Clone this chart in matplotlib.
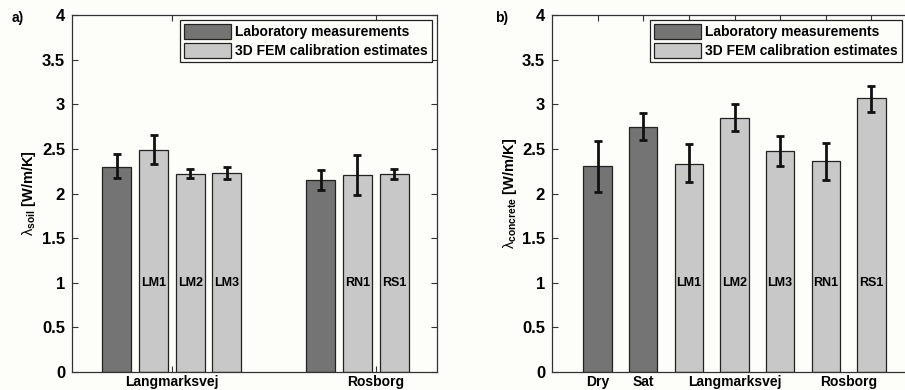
import matplotlib
matplotlib.use("Agg")
import matplotlib.pyplot as plt
from matplotlib.patches import Patch
import numpy as np

plt.rcParams['font.family'] = ['Liberation Sans', 'DejaVu Sans']
plt.rcParams['mathtext.fontset'] = 'custom'
plt.rcParams['mathtext.rm'] = 'Liberation Sans'
plt.rcParams['mathtext.bf'] = 'Liberation Sans:bold'

# ---------------- data ----------------
# panel a (soil)
soil_groups = ['Langmarksvej', 'Rosborg']
soil_lab = [2.30, 2.15]
soil_lab_lo = [2.17, 2.04]
soil_lab_hi = [2.44, 2.26]
soil_fem_names = [['LM1', 'LM2', 'LM3'], ['RN1', 'RS1']]
soil_fem = [[2.49, 2.22, 2.23], [2.21, 2.22]]
soil_fem_lo = [[2.33, 2.17, 2.16], [1.98, 2.16]]
soil_fem_hi = [[2.66, 2.27, 2.30], [2.43, 2.28]]

# panel b (concrete)
conc_names = ['Dry', 'Sat', 'LM1', 'LM2', 'LM3', 'RN1', 'RS1']
conc_vals = [2.31, 2.75, 2.33, 2.85, 2.48, 2.36, 3.07]
conc_lo = [2.02, 2.60, 2.13, 2.70, 2.31, 2.15, 2.91]
conc_hi = [2.59, 2.90, 2.55, 3.00, 2.64, 2.57, 3.21]
conc_is_lab = [True, True, False, False, False, False, False]
conc_ticklabels = ['Dry', 'Sat', '', 'Langmarksvej', '', '', '']
conc_site_label = 'Rosborg'

yticks = [0, 0.5, 1, 1.5, 2, 2.5, 3, 3.5, 4]
yticklabels = ['0', '0.5', '1', '1.5', '2', '2.5', '3', '3.5', '4']

# ---------------- style ----------------
BG = '#fdfdfa'
DARK = '#747474'
LIGHT = '#c8c8c8'
W, H = 905, 390
fig = plt.figure(figsize=(W / 100, H / 100), dpi=100, facecolor=BG)
XPAD = 2.5


def make_axes(left, right, top, bottom):
    return fig.add_axes([left / W, (H - bottom) / H, (right - left) / W, (bottom - top) / H])


def style_axes(ax):
    ax.set_facecolor(BG)
    for s in ax.spines.values():
        s.set_linewidth(0.9)
        s.set_color('#333333')
    ax.set_ylim(0, 4)
    ax.set_yticks(yticks)
    ax.set_yticklabels(yticklabels, fontsize=12, fontweight='bold')
    ax.tick_params(axis='both', direction='in', top=True, right=True, length=4,
                   width=0.8, color='#333333')
    ax.tick_params(axis='y', pad=5)
    ax.tick_params(axis='x', pad=XPAD)


def draw_bar(ax, x, v, lo, hi, color, width):
    ax.bar(x, v, width=width, color=color, edgecolor='#222222', linewidth=0.9, zorder=2)
    ax.errorbar(x, v, yerr=[[v - lo], [hi - v]], fmt='none', ecolor='#111111',
                elinewidth=2, capsize=3, capthick=2, zorder=3)


def add_legend(ax, bbox):
    handles = [Patch(facecolor=DARK, edgecolor='#222222', linewidth=0.9),
               Patch(facecolor=LIGHT, edgecolor='#222222', linewidth=0.9)]
    leg = ax.legend(handles, ['Laboratory measurements', '3D FEM calibration estimates'],
                    loc='upper right', bbox_to_anchor=bbox, fancybox=False, framealpha=1,
                    edgecolor='#222222', prop={'weight': 'bold', 'size': 10},
                    handlelength=3.4, handleheight=1.3, handletextpad=0.3,
                    borderpad=0.3, labelspacing=0.25, borderaxespad=0)
    leg.get_frame().set_linewidth(0.9)
    leg.get_frame().set_facecolor(BG)


# ---------------- panel a ----------------
axa = make_axes(72, 437, 15, 372)
style_axes(axa)
axa.set_xlim(0.51, 2.30)
slot_offsets = [-0.27, -0.09, 0.09, 0.27]
bw_a = 0.142
for gi, g in enumerate(soil_groups):
    c = gi + 1
    draw_bar(axa, c + slot_offsets[0], soil_lab[gi], soil_lab_lo[gi], soil_lab_hi[gi], DARK, bw_a)
    for j, name in enumerate(soil_fem_names[gi]):
        x = c + slot_offsets[j + 1]
        draw_bar(axa, x, soil_fem[gi][j], soil_fem_lo[gi][j], soil_fem_hi[gi][j], LIGHT, bw_a)
        axa.text(x, 1.0, name, ha='center', va='center', fontsize=9, fontweight='bold', zorder=4)
axa.set_xticks([1, 2])
axa.set_xticklabels(soil_groups, fontsize=10, fontweight='bold')
axa.set_ylabel(r'$\mathrm{\lambda}_{\mathbf{soil}}$ $\mathbf{[W/m/K]}$', fontsize=10.5, labelpad=3)
add_legend(axa, ((432 - 72) / 365, (372 - 20) / 357))
fig.text(12 / W, (H - 18) / H, 'a)', fontsize=10, fontweight='bold', va='center', ha='left')

# ---------------- panel b ----------------
axb = make_axes(552, 917, 15, 372)
style_axes(axb)
axb.set_xlim(0, 8)
bw_b = 0.62
xs = np.arange(1, len(conc_names) + 1)
for i, name in enumerate(conc_names):
    draw_bar(axb, xs[i], conc_vals[i], conc_lo[i], conc_hi[i],
             DARK if conc_is_lab[i] else LIGHT, bw_b)
    if not conc_is_lab[i]:
        axb.text(xs[i], 1.0, name, ha='center', va='center', fontsize=9, fontweight='bold', zorder=4)
axb.set_xticks(xs)
axb.set_xticklabels(conc_ticklabels, fontsize=10, fontweight='bold')
axb.annotate(conc_site_label, xy=(6.5, 0), xycoords=('data', 'axes fraction'),
             xytext=(0, -XPAD), textcoords='offset points', ha='center', va='top',
             fontsize=10, fontweight='bold', annotation_clip=False)
axb.set_ylabel(r'$\mathrm{\lambda}_{\mathbf{concrete}}$ $\mathbf{[W/m/K]}$', fontsize=10.5, labelpad=2)
add_legend(axb, ((902 - 552) / 365, (372 - 20) / 357))
fig.text(495 / W, (H - 18) / H, 'b)', fontsize=10, fontweight='bold', va='center', ha='left')

fig.savefig('out.png', dpi=100, facecolor=BG)
